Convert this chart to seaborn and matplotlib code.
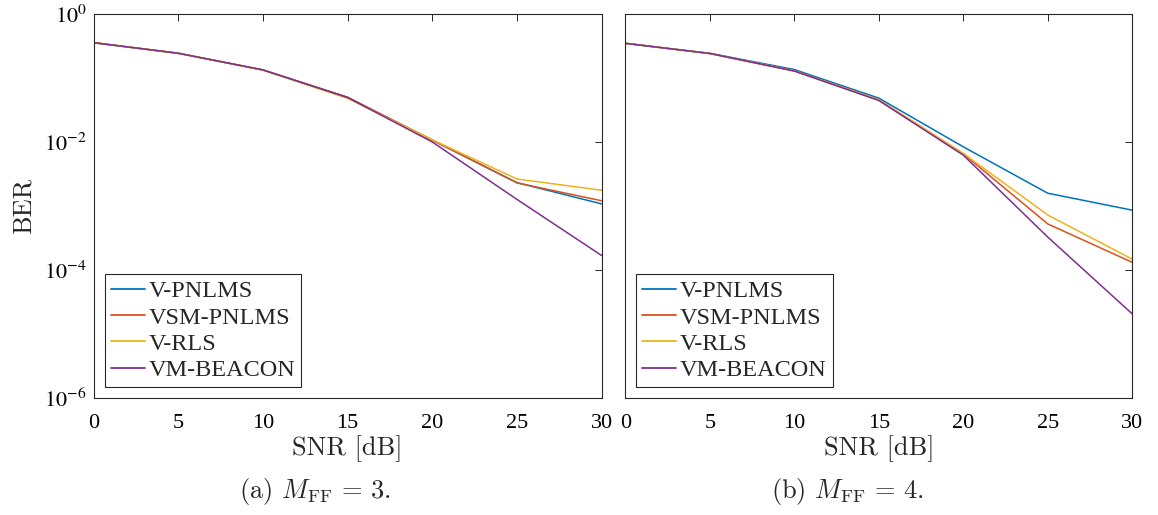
import numpy as np
import pandas as pd
import matplotlib
matplotlib.use("Agg")
import matplotlib.pyplot as plt
import seaborn as sns
from matplotlib.ticker import FixedLocator, FixedFormatter, NullLocator

# ---- data ----
snr = [0, 5, 10, 15, 20, 25, 30]
algorithms = ["V-PNLMS", "VSM-PNLMS", "V-RLS", "VM-BEACON"]

# (a) M_FF = 3
ber_a_vpnlms = [0.36, 0.246, 0.135, 0.0504, 0.0108, 0.00234, 0.00109]
ber_a_vsmpnlms = [0.36, 0.246, 0.135, 0.0504, 0.0108, 0.00232, 0.00122]
ber_a_vrls = [0.36, 0.246, 0.134, 0.0485, 0.0109, 0.00267, 0.00178]
ber_a_vmbeacon = [0.36, 0.246, 0.135, 0.0500, 0.0101, 0.00128, 0.00017]

# (b) M_FF = 4
ber_b_vpnlms = [0.352, 0.246, 0.137, 0.049, 0.0085, 0.0016, 0.00087]
ber_b_vsmpnlms = [0.352, 0.244, 0.130, 0.046, 0.0066, 0.00053, 0.000133]
ber_b_vrls = [0.352, 0.244, 0.131, 0.046, 0.0067, 0.00073, 0.000149]
ber_b_vmbeacon = [0.352, 0.244, 0.130, 0.045, 0.0063, 0.00033, 0.0000208]

ytick_vals = [1e0, 1e-2, 1e-4, 1e-6]
ytick_labels = ["$10^{0}$", "$10^{-2}$", "$10^{-4}$", "$10^{-6}$"]
xtick_vals = [0, 5, 10, 15, 20, 25, 30]
captions = ["(a) $M_{\\mathrm{FF}}\\,=\\,3$.", "(b) $M_{\\mathrm{FF}}\\,=\\,4$."]

colors = ["#0072BD", "#D95319", "#EDB120", "#7E2F8E"]


def make_df(series):
    rows = []
    for name, vals in zip(algorithms, series):
        for s, v in zip(snr, vals):
            rows.append({"SNR": s, "BER": v, "alg": name})
    return pd.DataFrame(rows)


df_a = make_df([ber_a_vpnlms, ber_a_vsmpnlms, ber_a_vrls, ber_a_vmbeacon])
df_b = make_df([ber_b_vpnlms, ber_b_vsmpnlms, ber_b_vrls, ber_b_vmbeacon])

sns.set_theme(style="white")
plt.rcParams["font.family"] = ["Liberation Serif", "DejaVu Serif"]
plt.rcParams["mathtext.fontset"] = "stix"

W, H = 1158, 515
fig = plt.figure(figsize=(W / 100, H / 100), dpi=100)

ax_top = 14.3
ax_bot = 398.3
lefts = [93.7, 625.3]
widths = [508.0, 507.0]
cap_centers = [315, 848]

for i, (df, cap) in enumerate(zip([df_a, df_b], captions)):
    ax = fig.add_axes([lefts[i] / W, 1 - ax_bot / H, widths[i] / W, (ax_bot - ax_top) / H])
    sns.lineplot(data=df, x="SNR", y="BER", hue="alg", hue_order=algorithms,
                 palette=colors, ax=ax, linewidth=1.1, legend=True)
    ax.set_yscale("log")
    ax.set_xlim(0, 30)
    ax.set_ylim(1e-6, 1e0)
    ax.yaxis.set_major_locator(FixedLocator(ytick_vals))
    ax.yaxis.set_minor_locator(NullLocator())
    ax.set_xticks(xtick_vals)
    ax.set_xticklabels([str(v) for v in xtick_vals])
    if i == 0:
        ax.yaxis.set_major_formatter(FixedFormatter(ytick_labels))
        ax.set_ylabel("BER", fontsize=19, labelpad=6, family="cmr10")
    else:
        ax.set_yticklabels([])
        ax.set_ylabel("")
    ax.set_xlabel("SNR [dB]", fontsize=19, labelpad=2, family="cmr10")
    ax.tick_params(axis="both", which="both", direction="in", top=True, right=True,
                   length=5, width=0.7, colors="#262626", labelsize=16, pad=5)
    ax.tick_params(axis="x", pad=11)
    ax.tick_params(axis="both", labelcolor="black")
    for sp in ax.spines.values():
        sp.set_visible(True)
        sp.set_color("#262626")
        sp.set_linewidth(0.8)
    leg = ax.legend(loc="lower left", fontsize=17.5, frameon=True, fancybox=False,
                    edgecolor="#262626", framealpha=1, handlelength=1.4,
                    handletextpad=0.15, labelspacing=0.18, borderpad=0.25,
                    borderaxespad=0.45)
    leg.get_frame().set_linewidth(0.8)
    for line in leg.get_lines():
        line.set_linewidth(1.3)
    fig.text(cap_centers[i] / W, 1 - 498 / H, cap, ha="center", va="baseline",
             fontsize=19, family="cmr10", math_fontfamily="cm")

fig.savefig("out.png", dpi=100)
